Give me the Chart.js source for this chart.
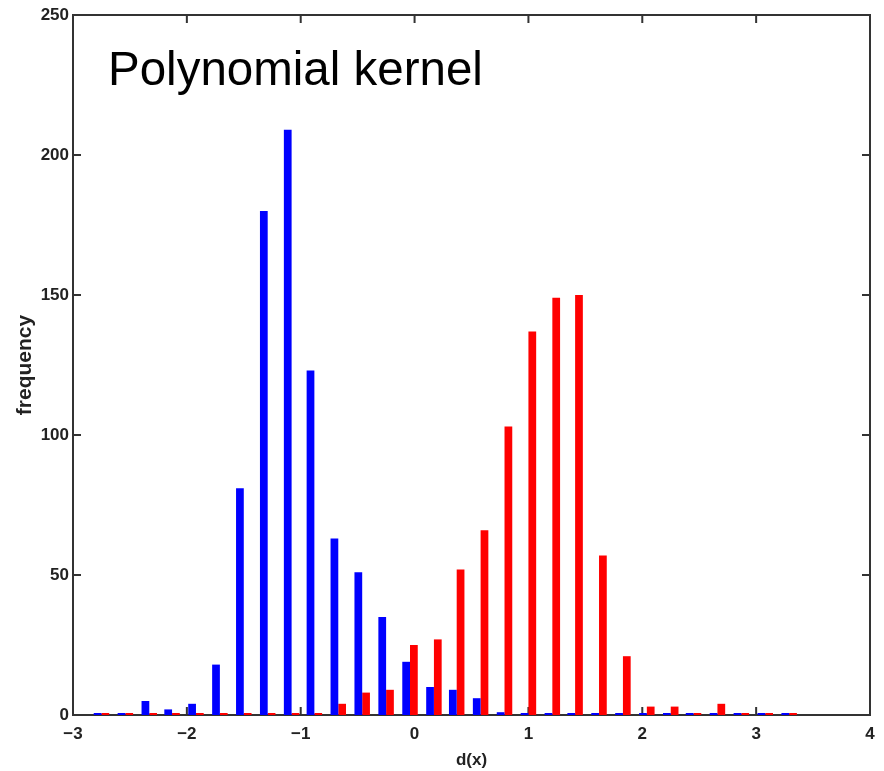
<!DOCTYPE html>
<html>
<head>
<meta charset="utf-8">
<script src="https://cdn.jsdelivr.net/npm/chart.js@4.4.1/dist/chart.umd.min.js"></script>
<style>
  html, body { margin: 0; padding: 0; background: #fff; }
  #wrap { width: 884px; height: 771px; }
</style>
</head>
<body>
<div id="wrap"><canvas id="chart"></canvas></div>
<script>
// bin centres of the histogram, d(x)
const binCenters = [-2.75, -2.54, -2.33, -2.13, -1.92, -1.71, -1.50, -1.29, -1.08, -0.88,
  -0.67, -0.46, -0.25, -0.04, 0.17, 0.37, 0.58, 0.79, 1.00, 1.21,
  1.41, 1.62, 1.83, 2.04, 2.25, 2.45, 2.66, 2.87, 3.08, 3.29];

const blueCounts = [0, 0, 5, 2, 4, 18, 81, 180, 209, 123,
  63, 51, 35, 19, 10, 9, 6, 1, 0, 0,
  0, 0, 0, 0, 0, 0, 0, 0, 0, 0];

const redCounts = [0, 0, 0, 0, 0, 0, 0, 0, 0, 0,
  4, 8, 9, 25, 27, 52, 66, 103, 137, 149,
  150, 57, 21, 3, 3, 0, 4, 0, 0, 0];

const xTicks = [-3, -2, -1, 0, 1, 2, 3, 4];
const yTicks = [0, 50, 100, 150, 200, 250];

const titleText = 'Polynomial kernel';
const tickFont = { family: "'Liberation Sans', Arial, sans-serif", size: 17, weight: 'bold' };

// axes box + inward ticks (drawn under the bars, like matlab)
const boxPlugin = {
  id: 'box',
  beforeDatasetsDraw(chart) {
    const { ctx, chartArea: a, scales } = chart;
    const len = 8;
    ctx.save();
    ctx.strokeStyle = '#333';
    ctx.lineWidth = 2;
    ctx.beginPath();
    xTicks.forEach(t => {
      const px = scales.x.getPixelForValue(t);
      ctx.moveTo(px, a.bottom); ctx.lineTo(px, a.bottom - len);
      ctx.moveTo(px, a.top); ctx.lineTo(px, a.top + len);
    });
    yTicks.forEach(t => {
      const py = scales.y.getPixelForValue(t);
      ctx.moveTo(a.left, py); ctx.lineTo(a.left + len, py);
      ctx.moveTo(a.right, py); ctx.lineTo(a.right - len, py);
    });
    ctx.stroke();
    ctx.strokeRect(a.left, a.top, a.right - a.left, a.bottom - a.top);
    ctx.restore();
  },
  afterDraw(chart) {
    const { ctx, chartArea: a } = chart;
    ctx.save();
    ctx.fillStyle = '#000';
    ctx.font = "47.5px 'Liberation Sans', Arial, sans-serif";
    ctx.textBaseline = 'alphabetic';
    ctx.fillText(titleText, a.left + 35, a.top + 70);
    ctx.restore();
  }
};

const ctx = document.getElementById('chart').getContext('2d');
new Chart(ctx, {
  type: 'bar',
  data: {
    datasets: [
      {
        label: 'class 1',
        data: binCenters.map((c, i) => ({ x: c, y: blueCounts[i] })),
        backgroundColor: '#0000ff',
        borderWidth: 0,
        minBarLength: 2
      },
      {
        label: 'class 2',
        data: binCenters.map((c, i) => ({ x: c, y: redCounts[i] })),
        backgroundColor: '#ff0000',
        borderWidth: 0,
        minBarLength: 2
      }
    ]
  },
  options: {
    responsive: true,
    maintainAspectRatio: false,
    animation: false,
    categoryPercentage: 0.68,
    barPercentage: 1,
    layout: { padding: { top: 15, right: 14, left: 0, bottom: 0 } },
    plugins: {
      legend: { display: false },
      tooltip: { enabled: false }
    },
    scales: {
      x: {
        type: 'linear',
        min: -3,
        max: 4,
        offset: false,
        grid: { display: false, drawTicks: false },
        border: { display: false },
        afterBuildTicks: s => { s.ticks = xTicks.map(v => ({ value: v })); },
        afterFit: s => { s.height = 56; },
        ticks: {
          color: '#222',
          font: tickFont,
          padding: 9,
          maxRotation: 0,
          callback: v => (v < 0 ? '\u2212' + Math.abs(v) : String(v))
        },
        title: {
          display: true,
          text: 'd(x)',
          color: '#222',
          font: tickFont,
          padding: { top: 0, bottom: 0 }
        }
      },
      y: {
        min: 0,
        max: 250,
        grid: { display: false, drawTicks: false },
        border: { display: false },
        afterBuildTicks: s => { s.ticks = yTicks.map(v => ({ value: v })); },
        afterFit: s => { s.width = 73; },
        ticks: {
          color: '#222',
          font: tickFont,
          padding: 4
        },
        title: {
          display: true,
          text: 'frequency',
          color: '#222',
          font: { family: "'Liberation Sans', Arial, sans-serif", size: 21, weight: 'bold' },
          padding: { top: 13, bottom: 0 }
        }
      }
    }
  },
  plugins: [boxPlugin]
});
</script>
</body>
</html>
